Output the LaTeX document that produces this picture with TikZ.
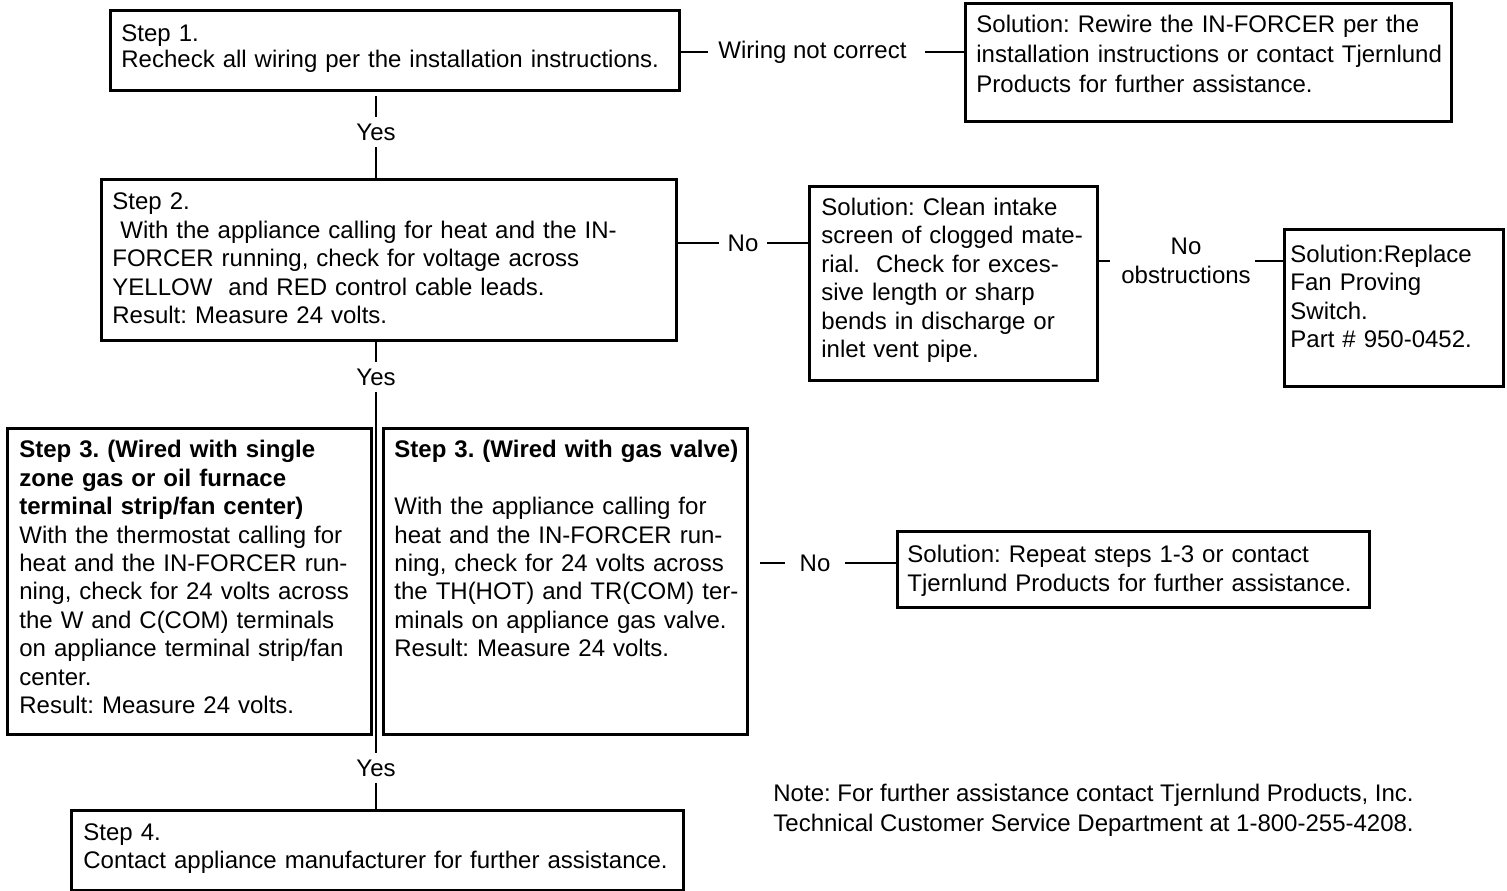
\documentclass[tikz,border=0pt]{standalone}
\usepackage{fontspec}
\setmainfont{Liberation Sans}
\usetikzlibrary{positioning}
\frenchspacing

\begin{document}
\begin{tikzpicture}[x=0.5pt, y=-0.5pt,
      every node/.style={font=\fontsize{12}{14.2}\selectfont},
      stepbox/.style={draw, line width=1.4pt, anchor=north west, align=left, inner xsep=5.5pt, inner ysep=0pt, text height=15pt,
        execute at begin node={\rightskip=0pt plus 1fil minus 20pt\relax}},
      lbl/.style={inner xsep=4pt, inner ysep=3pt, align=center},
      wire/.style={line width=1.4pt}
    ]
      \useasboundingbox (0,0) rectangle (1507,890);

      % Step 1: recheck wiring
      \node[stepbox, font=\fontsize{12}{13}\selectfont, text width=273.5pt, text height=15.5pt, text depth=24.5pt] (s1) at (109,9) {
        Step 1.\\
        Recheck all wiring per the installation instructions.
      };
      \node[stepbox, font=\fontsize{12}{15}\selectfont, text width=232pt, text height=14.75pt, text depth=44.25pt] (fixA) at (964,2) {
        Solution: Rewire the IN-FORCER per the\\
        installation instructions or contact Tjernlund\\
        Products for further assistance.
      };

      % Step 2: voltage at control cable
      \node[stepbox, text width=276.5pt, text height=15.25pt, text depth=65.25pt] (s2) at (100,178) {
        Step 2.\\
        \ With the appliance calling for heat and the IN-\\
        FORCER running, check for voltage across\\
        YELLOW\ \ and RED control cable leads.\\
        Result: Measure 24 volts.
      };
      \node[stepbox, inner xsep=6pt, text width=132pt, text height=14.5pt, text depth=82.5pt] (fixB) at (808,185) {
        Solution: Clean intake\\
        screen of clogged mate-\\
        rial.\ \ Check for exces-\\
        sive length or sharp\\
        bends in discharge or\\
        inlet vent pipe.
      };
      \node[stepbox, inner xsep=3pt, text width=103.5pt, text height=16.5pt, text depth=62pt] (fixC) at (1283,228) {
        Solution:Replace\\
        Fan Proving\\
        Switch.\\
        Part \# 950-0452.
      };

      % Step 3: two wiring cases
      \node[stepbox, inner xsep=6pt, text width=170pt, text height=14.75pt, text depth=138.25pt] (s3a) at (6,427) {
        \textbf{Step 3. (Wired with single}\\
        \textbf{zone gas or oil furnace}\\
        \textbf{terminal strip/fan center)}\\
        With the thermostat calling for\\
        heat and the IN-FORCER run-\\
        ning, check for 24 volts across\\
        the W and C(COM) terminals\\
        on appliance terminal strip/fan\\
        center.\\
        Result: Measure 24 volts.
      };
      \node[stepbox, text width=171pt, text height=14.75pt, text depth=138.25pt] (s3b) at (382,427) {
        \textbf{Step 3. (Wired with gas valve)}\\[14.2pt]
        With the appliance calling for\\
        heat and the IN-FORCER run-\\
        ning, check for 24 volts across\\
        the TH(HOT) and TR(COM) ter-\\
        minals on appliance gas valve.\\
        Result: Measure 24 volts.
      };
      \node[stepbox, inner xsep=5pt, text width=226pt, text height=15.75pt, text depth=22.25pt] (fixD) at (896,530) {
        Solution: Repeat steps 1-3 or contact\\
        Tjernlund Products for further assistance.
      };

      % Step 4 and note
      \node[stepbox, inner xsep=6pt, text width=294pt, text height=15pt, text depth=25pt] (s4) at (70,809) {
        Step 4.\\
        Contact appliance manufacturer for further assistance.
      };
      \node[anchor=north west, align=left, inner sep=0pt, text height=15pt, font=\fontsize{12}{15}\selectfont] (note) at (773,801.5) {
        Note: For further assistance contact Tjernlund Products, Inc.\\
        Technical Customer Service Department at 1-800-255-4208.
      };

      % branch labels
      \node[lbl] (yes1) at (376,132) {Yes};
      \node[lbl] (yes2) at (376,377) {Yes};
      \node[lbl] (yes3) at (376,768) {Yes};
      \node[lbl, inner xsep=5pt] (wrong) at (812.5,52) {Wiring not correct};
      \node[lbl] (no2) at (743,243) {No};
      \node[lbl, inner xsep=2pt] (obs) at (1186,261) {No\\obstructions};
      \node[lbl, inner xsep=7pt] (no3) at (815,563) {No};

      % connectors
      \draw[wire] ([yshift=-2pt]s1.south -| yes1) -- (yes1);
      \draw[wire] (yes1) -- (s2.north -| yes1);
      \draw[wire] (s2.south -| yes2) -- (yes2);
      \draw[wire] (yes2) -- (yes3);
      \draw[wire] (yes3) -- (s4.north -| yes3);
      \draw[wire] (s1.east |- wrong.west) -- (wrong.west);
      \draw[wire, shorten <=4pt] (wrong.east) -- (wrong.east -| fixA.west);
      \draw[wire] (s2.east |- no2.west) -- (no2.west);
      \draw[wire] (no2.east) -- (no2.east -| fixB.west);
      \draw[wire, shorten >=3.5pt] (fixB.east |- obs.west) -- (obs.west);
      \draw[wire] (obs.east) -- (obs.east -| fixC.west);
      \draw[wire] ([xshift=5.5pt]s3b.east |- no3.west) -- (no3.west);
      \draw[wire] (no3.east) -- (no3.east -| fixD.west);
    \end{tikzpicture}
\end{document}
